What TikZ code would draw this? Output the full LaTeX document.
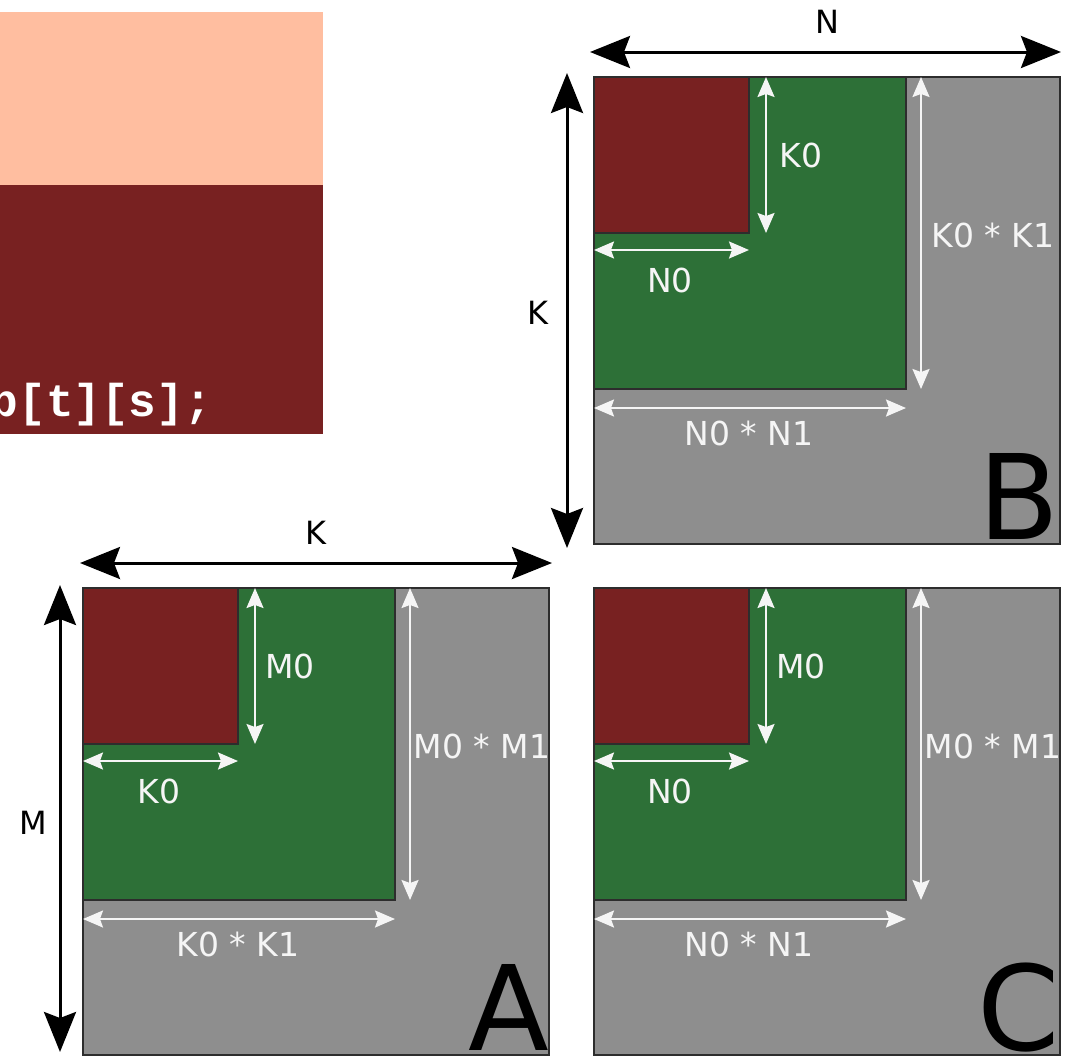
\documentclass[tikz,border=0pt]{standalone}
\usepackage{fontspec}
\setmainfont{DejaVu Sans}
\newfontfamily\codefont{Liberation Mono}
\usetikzlibrary{arrows.meta}
\definecolor{peach}{RGB}{255,190,160}
\definecolor{dred}{RGB}{120,33,33}
\definecolor{dgreen}{RGB}{45,112,55}
\definecolor{mgray}{RGB}{142,142,142}
\definecolor{edgec}{RGB}{45,45,45}
\definecolor{offwhite}{RGB}{245,245,245}
\tikzset{
  blk/.style={line width=3pt,{Stealth[length=40pt,width=32pt,inset=6pt]}-{Stealth[length=40pt,width=32pt,inset=6pt]}},
  wht/.style={offwhite,line width=2pt,{Stealth[length=20pt,width=17pt,inset=3pt]}-{Stealth[length=20pt,width=17pt,inset=3pt]}},
  lbl/.style={text=offwhite,font=\fontsize{33}{40}\selectfont,inner sep=0pt},
  dimlbl/.style={text=black,font=\fontsize{32}{38}\selectfont,inner sep=0pt},
  bigletter/.style={font=\fontsize{118}{130}\selectfont,inner sep=0pt,anchor=base east},
  boxc/.style={draw=edgec,line width=1.5pt}
}
% #1 name, #2 x, #3 y, #4 small vertical label, #5 small horizontal label,
% #6 big vertical label, #7 big horizontal label, #8 letter
\newcommand\matpanel[8]{%
  \begin{scope}[shift={(#2,#3)}]
    \path[boxc,fill=mgray] (0,0) rectangle (466,467);
    \path[boxc,fill=dgreen] (0,0) rectangle (312,312);
    \path[boxc,fill=dred] (0,0) rectangle (155,156);
    \coordinate (#1sva) at (172,0);   \coordinate (#1svb) at (172,156);
    \coordinate (#1sha) at (0,173);   \coordinate (#1shb) at (155,173);
    \coordinate (#1bva) at (327,0);   \coordinate (#1bvb) at (327,312);
    \coordinate (#1bha) at (0,331);   \coordinate (#1bhb) at (312,331);
    \draw[wht] (#1sva) -- (#1svb);
    \draw[wht] (#1sha) -- (#1shb);
    \draw[wht] (#1bva) -- (#1bvb);
    \draw[wht] (#1bha) -- (#1bhb);
    \node[lbl] (#1svl) at (207,78) {#4};
    \node[lbl] (#1shl) at (76,203) {#5};
    \node[lbl] (#1bvl) at (399,158) {#6};
    \node[lbl] (#1bhl) at (155,356) {#7};
    \node[bigletter] (#1let) at (466,462) {#8};
  \end{scope}}
\begin{document}
\begin{tikzpicture}[x=1pt,y=-1pt]
\useasboundingbox (0,0) rectangle (1071,1055);
% code block
\fill[peach] (0,12) rectangle (323,185);
\fill[dred] (0,185) rectangle (323,434);
\begin{scope}
  \clip (0,185) rectangle (323,434);
  \node[anchor=base east,inner sep=0pt,text=white,font=\codefont\bfseries\fontsize{46}{50}\selectfont] (code) at (212,416) {b[t][s];};
\end{scope}
% panels
\matpanel{B}{594}{77}{K0}{N0}{K0 * K1}{N0 * N1}{B}
\matpanel{A}{83}{588}{M0}{K0}{M0 * M1}{K0 * K1}{A}
\matpanel{C}{594}{588}{M0}{N0}{M0 * M1}{N0 * N1}{C}
% dimension arrows
\coordinate (Nl) at (590,52); \coordinate (Nr) at (1061,52);
\draw[blk] (Nl) -- (Nr);
\node[dimlbl] (Nlab) at (827,22) {N};
\coordinate (KBt) at (567,73); \coordinate (KBb) at (567,548);
\draw[blk] (KBt) -- (KBb);
\node[dimlbl] (KBlab) at (538,313) {K};
\coordinate (KAl) at (80,563); \coordinate (KAr) at (552,563);
\draw[blk] (KAl) -- (KAr);
\node[dimlbl] (KAlab) at (316,533) {K};
\coordinate (Mt) at (60,585); \coordinate (Mb) at (60,1052);
\draw[blk] (Mt) -- (Mb);
\node[dimlbl] (Mlab) at (33,823) {M};
\end{tikzpicture}
\end{document}
